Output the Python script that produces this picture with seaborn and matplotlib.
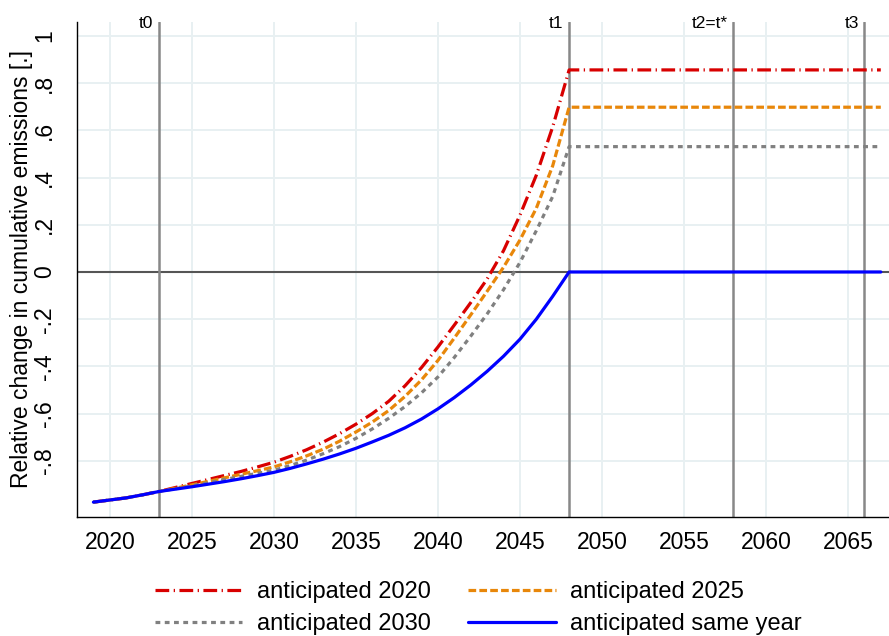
import pandas as pd
import matplotlib
matplotlib.use('Agg')
import matplotlib.pyplot as plt
import matplotlib.transforms as mtransforms
import seaborn as sns

# --- Data ---
years = [2019, 2020, 2021, 2022, 2023, 2024, 2025, 2026, 2027, 2028,
         2029, 2030, 2031, 2032, 2033, 2034, 2035, 2036, 2037, 2038,
         2039, 2040, 2041, 2042, 2043, 2044, 2045, 2046, 2047, 2048, 2067]

ant_2020 = [-0.975, -0.966, -0.957, -0.944, -0.930, -0.913, -0.896, -0.879, -0.862, -0.845,
            -0.826, -0.806, -0.781, -0.753, -0.721, -0.685, -0.645, -0.600, -0.548, -0.482,
            -0.405, -0.318, -0.225, -0.130, -0.030, 0.090, 0.240, 0.410, 0.615, 0.856, 0.856]

ant_2025 = [-0.975, -0.966, -0.957, -0.944, -0.930, -0.916, -0.902, -0.887, -0.872, -0.857,
            -0.842, -0.826, -0.804, -0.779, -0.751, -0.717, -0.678, -0.636, -0.587, -0.527,
            -0.457, -0.375, -0.280, -0.182, -0.082, 0.020, 0.135, 0.270, 0.450, 0.698, 0.698]

ant_2030 = [-0.975, -0.966, -0.957, -0.944, -0.930, -0.918, -0.906, -0.893, -0.879, -0.866,
            -0.853, -0.840, -0.820, -0.797, -0.770, -0.740, -0.705, -0.665, -0.620, -0.570,
            -0.512, -0.445, -0.362, -0.272, -0.178, -0.075, 0.040, 0.175, 0.320, 0.531, 0.531]

ant_same = [-0.975, -0.966, -0.957, -0.944, -0.930, -0.920, -0.910, -0.899, -0.888, -0.876,
            -0.863, -0.849, -0.832, -0.813, -0.793, -0.771, -0.747, -0.720, -0.692, -0.660,
            -0.623, -0.580, -0.532, -0.479, -0.421, -0.357, -0.285, -0.200, -0.103, 0.000, 0.000]

series_names = ['anticipated 2020', 'anticipated 2025', 'anticipated 2030', 'anticipated same year']

event_years = [2023, 2048, 2058, 2066]
event_labels = ['t0', 't1', 't2=t*', 't3']

x_ticks = [2020, 2025, 2030, 2035, 2040, 2045, 2050, 2055, 2060, 2065]
y_ticks = [-0.8, -0.6, -0.4, -0.2, 0.0, 0.2, 0.4, 0.6, 0.8, 1.0]
y_tick_labels = ['-.8', '-.6', '-.4', '-.2', '0', '.2', '.4', '.6', '.8', '1']

# --- Styling ---
colors = {
    'anticipated 2020': '#d80000',
    'anticipated 2025': '#e8870a',
    'anticipated 2030': '#808080',
    'anticipated same year': '#0000ff',
}
dashes = {
    'anticipated 2020': (4.3, 1.4, 0.4, 1.4),
    'anticipated 2025': (2.4, 1.0),
    'anticipated 2030': (1.5, 1.4),
    'anticipated same year': '',
}


def main():
    sns.set_theme(style='white')
    plt.rcParams['font.family'] = ['Liberation Sans', 'DejaVu Sans']
    plt.rcParams['text.color'] = 'black'
    plt.rcParams['axes.labelcolor'] = 'black'

    df = pd.DataFrame({
        'year': years,
        series_names[0]: ant_2020,
        series_names[1]: ant_2025,
        series_names[2]: ant_2030,
        series_names[3]: ant_same,
    }).melt(id_vars='year', var_name='series', value_name='value')

    fig = plt.figure(figsize=(8.89, 6.36), dpi=100)
    ax = fig.add_axes([77 / 889, 119 / 636, 812 / 889, 495 / 636])

    ax.set_axisbelow(True)
    ax.grid(True, color='#e8f0f2', linewidth=1.4)

    sns.lineplot(data=df, x='year', y='value', hue='series', style='series',
                 hue_order=series_names, style_order=series_names,
                 palette=colors, dashes=dashes, linewidth=2.3,
                 ax=ax, legend=False, zorder=3)
    data_lines = list(ax.lines)

    # reference lines
    ax.axhline(0, color='#555555', linewidth=1.5, zorder=2)
    blend = mtransforms.blended_transform_factory(ax.transData, ax.transAxes)
    for yr, lab in zip(event_years, event_labels):
        ax.axvline(yr, color='#888888', linewidth=1.8, zorder=2)
        ax.text(yr - 0.35, 0.988, lab, transform=blend, ha='right', va='baseline',
                fontsize=12.5, color='black')

    ax.set_xlim(2018.0, 2067.5)
    ax.set_ylim(-1.038, 1.059)
    ax.set_xticks(x_ticks)
    ax.set_yticks(y_ticks)
    ax.set_yticklabels(y_tick_labels, rotation=90, va='center')
    ax.tick_params(axis='both', direction='out', length=7, width=1.0,
                   color='black', labelsize=16.5, labelcolor='black')
    ax.tick_params(axis='x', pad=3)
    ax.tick_params(axis='y', pad=8)
    ax.set_xlabel('')
    ax.set_ylabel('Relative change in cumulative emissions [.]', fontsize=16.5,
                  color='black', labelpad=0)

    sns.despine(ax=ax)
    for side in ['left', 'bottom']:
        ax.spines[side].set_color('black')
        ax.spines[side].set_linewidth(1.0)

    # legend: column-first fill -> red, gray | orange, blue
    order = [0, 2, 1, 3]
    fig.legend([data_lines[i] for i in order], [series_names[i] for i in order],
               ncol=2, loc='upper left', bbox_to_anchor=(155 / 889, 1 - 581 / 636),
               frameon=False, fontsize=17, handlelength=3.7, handletextpad=0.6,
               columnspacing=1.6, labelspacing=0.42, borderpad=0, borderaxespad=0)

    fig.savefig('out.png', dpi=100)
    plt.close(fig)


if __name__ == '__main__':
    main()
